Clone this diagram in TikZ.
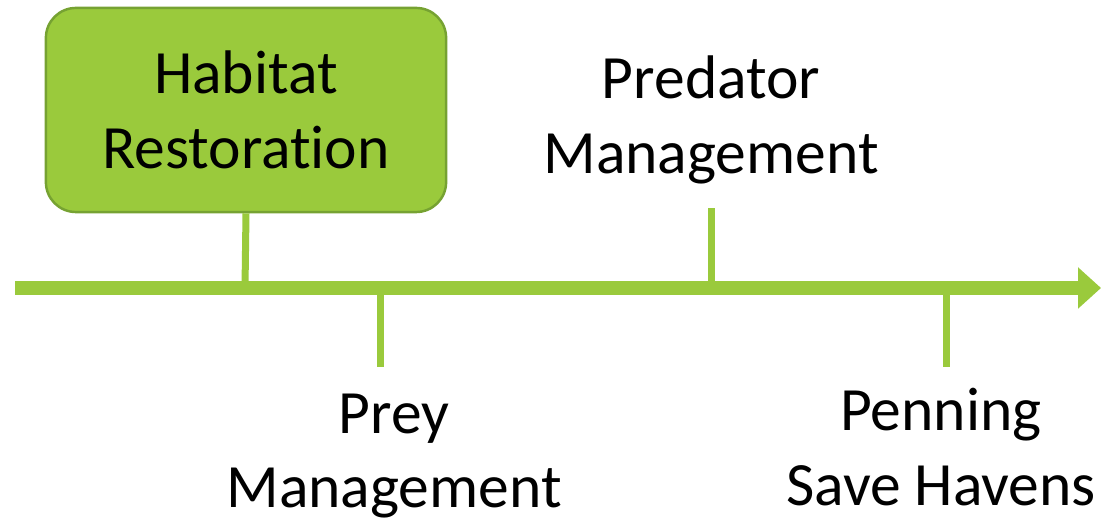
\documentclass[tikz,border=0pt]{standalone}
\usepackage{fontspec}
\setmainfont{Carlito}[RawFeature=-liga]
\usetikzlibrary{arrows.meta}
\definecolor{leaf}{HTML}{9ACA3C}
\definecolor{leafdark}{HTML}{76A232}

\begin{document}
\begin{tikzpicture}[x=0.01cm, y=-0.01cm,
    label text/.style={align=center, font=\fontsize{17.5}{21.2}\selectfont, inner sep=0pt},
    tick/.style={leaf, line width=0.07cm}]
        \useasboundingbox (0,0) rectangle (1101,519);

        % Time axis
        \coordinate (start) at (15,288);
        \coordinate (end)   at (1101,288);
        \draw[leaf, line width=0.13cm, -{Triangle[length=0.23cm, width=0.40cm]}] (start) -- (end);

        % Points on the axis
        \coordinate (habitat axis)  at (245,288);
        \coordinate (prey axis)     at (380,288);
        \coordinate (predator axis) at (711,288);
        \coordinate (penning axis)  at (946,288);

        % Free tick ends
        \coordinate (prey end)     at (380,367);
        \coordinate (predator end) at (711,208);
        \coordinate (penning end)  at (946,367);

        % Highlighted step
        \node[label text, draw=leafdark, fill=leaf, line width=0.7pt, rounded corners=0.3cm,
              minimum width=4cm, minimum height=2.04cm] (habitat) at (246,110) {Habitat\\Restoration};

        % Other steps
        \node[label text] (predator) at (711,120) {Predator\\Management};
        \node[label text] (prey)     at (394,456) {Prey\\Management};
        \node[label text] (penning)  at (941,447) {Penning\\Save Havens};

        % Ticks
        \draw[tick] (habitat.south) -- (habitat axis);
        \draw[tick] (prey axis) -- (prey end);
        \draw[tick] (predator axis) -- (predator end);
        \draw[tick] (penning axis) -- (penning end);
    \end{tikzpicture}
\end{document}
